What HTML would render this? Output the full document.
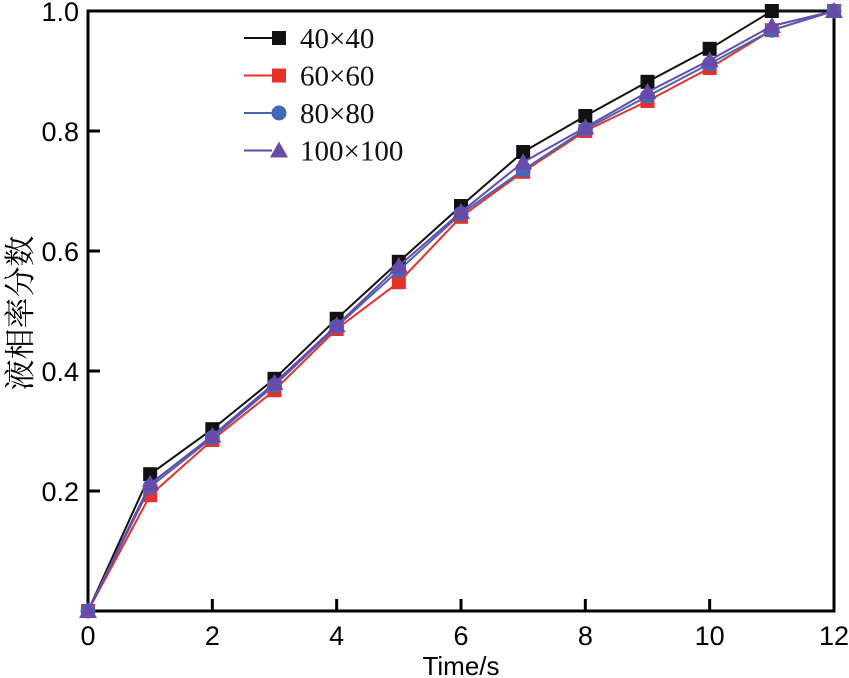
<!DOCTYPE html>
<html><head><meta charset="utf-8"><style>
body{margin:0;background:#fff;width:849px;height:678px;overflow:hidden}
svg{display:block}
</style></head><body>
<svg id="chart" width="849" height="678" xmlns="http://www.w3.org/2000/svg"></svg>
<script>
const times=[0,1,2,3,4,5,6,7,8,9,10,11,12];
const s40=[0,0.228,0.303,0.387,0.487,0.582,0.675,0.765,0.825,0.882,0.937,1.0,1.0];
const s60=[0,0.193,0.285,0.368,0.470,0.548,0.657,0.732,0.800,0.850,0.905,0.968,1.0];
const s80=[0,0.207,0.289,0.376,0.474,0.568,0.662,0.735,0.803,0.858,0.912,0.968,1.0];
const s100=[0,0.212,0.292,0.380,0.476,0.575,0.665,0.748,0.806,0.865,0.918,0.975,1.0];
const xTicks=[0,2,4,6,8,10,12];
const yTicks=[0.2,0.4,0.6,0.8,1.0];
const seriesNames=["40×40","60×60","80×80","100×100"];

const NS="http://www.w3.org/2000/svg";
const svg=document.getElementById('chart');
const X0=88,X1=834,Y0=611,Y1=11;
const xs=v=>X0+(v-0)/(12-0)*(X1-X0);
const ys=v=>Y0-(v-0)/(1-0)*(Y0-Y1);
function mk(t,a,p){const e=document.createElementNS(NS,t);for(const k in a)e.setAttribute(k,a[k]);(p||svg).appendChild(e);return e;}

const frame=mk('rect',{x:X0,y:Y1,width:X1-X0,height:Y0-Y1,fill:'none',stroke:'#000','stroke-width':3});



xTicks.forEach(t=>{
  const x=xs(t);
  if(t>0&&t<12){const l=mk('line',{x1:x,x2:x,y1:Y0,y2:Y0-12,stroke:'#000','stroke-width':3});
  
  }
  const tx=mk('text',{x:x,y:645,'text-anchor':'middle','font-family':'Liberation Sans, sans-serif','font-size':27,fill:'#000'});
  tx.textContent=t;
  
  
});
yTicks.forEach(t=>{
  const y=ys(t);
  const l=mk('line',{x1:X0,x2:X0+12,y1:y,y2:y,stroke:'#000','stroke-width':3});
  
  
  const tx=mk('text',{x:79,y:y+10,'text-anchor':'end','font-family':'Liberation Sans, sans-serif','font-size':27,fill:'#000'});
  tx.textContent=t.toFixed(1);
  
  
});
const xt=mk('text',{x:461,y:675,'text-anchor':'middle','font-family':'Liberation Sans, sans-serif','font-size':26,fill:'#000'});
xt.textContent='Time/s';


const yt=mk('text',{x:0,y:0,'text-anchor':'middle','font-family':'Liberation Serif, Noto Serif CJK SC, serif','font-size':31,fill:'#000',transform:'translate(31,313) rotate(-90)'});
yt.textContent='液相率分数';



const styles=[
 {data:s40,color:'#111111',marker:'square'},
 {data:s60,color:'#e8302a',marker:'square'},
 {data:s80,color:'#4466b8',marker:'circle'},
 {data:s100,color:'#6a4aa8',marker:'triangle'}
];
function marker(type,x,y,color,g){
  if(type==='square')return mk('rect',{x:x-7,y:y-7,width:14,height:14,fill:color},g);
  if(type==='circle')return mk('circle',{cx:x,cy:y,r:7.5,fill:color},g);
  return mk('polygon',{points:`${x},${y-9} ${x-9},${y+7} ${x+9},${y+7}`,fill:color},g);
}
styles.forEach((s,i)=>{
  const g=mk('g',{});
  
  
  const pts=s.data.map((v,j)=>xs(times[j])+','+ys(v)).join(' ');
  const pl=mk('polyline',{points:pts,fill:'none',stroke:s.color,'stroke-width':2},g);
  
  
  s.data.forEach((v,j)=>{
    const m=marker(s.marker,xs(times[j]),ys(v),s.color,g);
    
    
  });
  const ly=38+i*37.5;
  const lg=mk('g',{});
  
  
  mk('line',{x1:244,x2:272,y1:ly,y2:ly,stroke:s.color,'stroke-width':2},lg);
  marker(s.marker,279,ly,s.color,lg);
  const t=mk('text',{x:300,y:ly+10,'font-family':'Liberation Serif, serif','font-size':29,fill:'#111'},lg);
  t.textContent=seriesNames[i];
});
</script>
</body></html>
